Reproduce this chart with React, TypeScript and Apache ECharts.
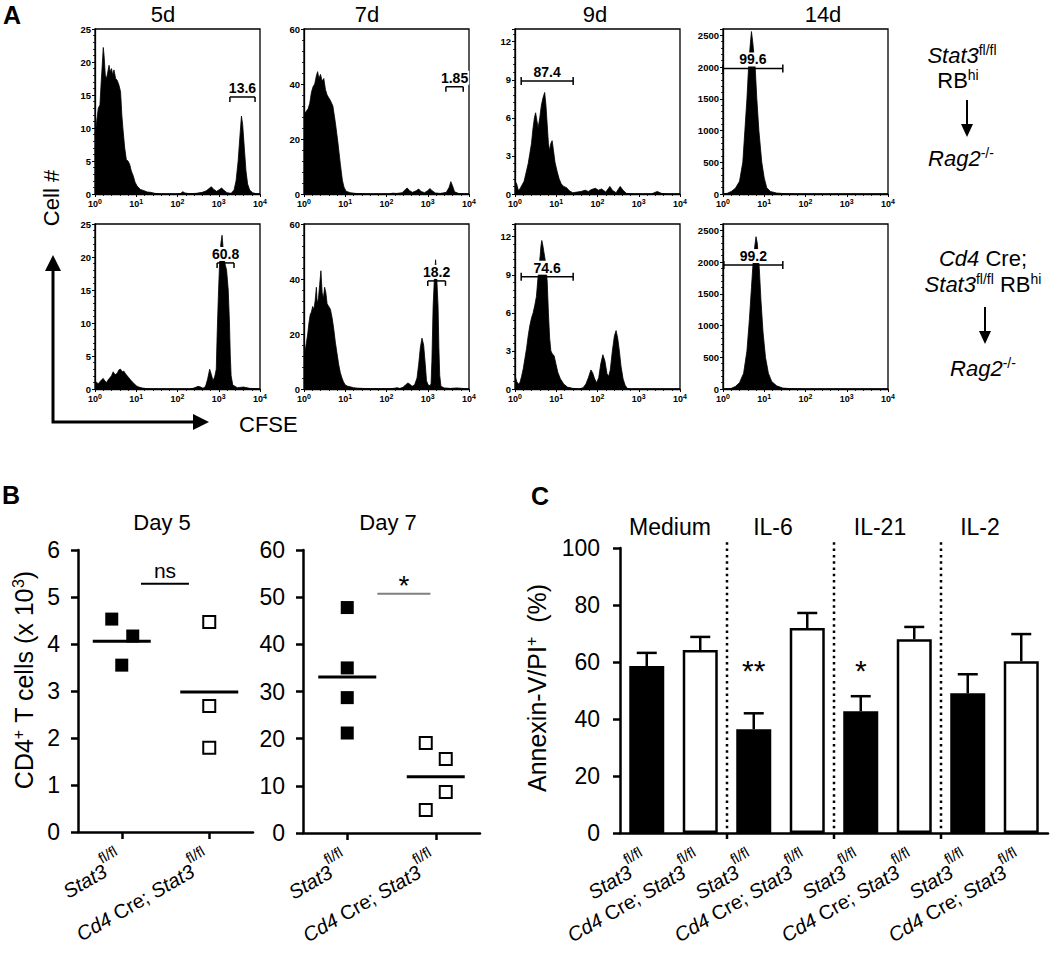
import React, { useEffect, useRef } from 'react';
import * as echarts from 'echarts';

const FONT = '"Liberation Sans", Arial, Helvetica, sans-serif';

// ---------- Panel A : CFSE histograms (x in log10 units of CFSE) ----------
const dayTitles = ['5d', '7d', '9d', '14d'];
const histYMax = [25, 60, 13, 2600];
const histYStep = [5, 20, 3, 500];

const hist5dTop = [[0,8.9],[0.04,11],[0.08,13],[0.12,13.5],[0.15,17],[0.18,20],[0.2,22.2],[0.22,21],[0.25,18],[0.28,17.5],[0.31,18.5],[0.34,19.5],[0.37,18.5],[0.4,19],[0.43,18],[0.46,18.8],[0.5,17.5],[0.54,17.2],[0.58,16.5],[0.62,15.5],[0.65,12],[0.68,9.7],[0.72,7],[0.76,5.2],[0.8,5],[0.84,4.5],[0.88,3.5],[0.93,2.7],[0.97,1.8],[1.02,1.2],[1.1,0.7],[1.19,0.5],[1.27,0.3],[1.35,0.25],[1.45,0.1],[1.6,0],[2.0,0],[2.08,0.1],[2.13,0.35],[2.18,0.15],[2.3,0.05],[2.45,0.1],[2.6,0.25],[2.7,0.5],[2.78,0.9],[2.82,1.1],[2.88,0.7],[2.95,0.4],[3.02,0.7],[3.07,0.9],[3.12,0.6],[3.2,0.2],[3.3,0.1],[3.37,0.6],[3.42,2],[3.47,5],[3.51,8.5],[3.55,11.8],[3.58,10.5],[3.62,7],[3.66,3.5],[3.7,1.5],[3.75,0.6],[3.82,0.2],[3.9,0.05],[4,0]];
const hist7dTop = [[0,29],[0.05,30],[0.1,31],[0.14,33],[0.18,37],[0.22,39],[0.26,40],[0.3,43],[0.33,44.5],[0.36,42],[0.4,43.5],[0.44,41],[0.48,42],[0.52,38],[0.56,36],[0.6,35],[0.64,34],[0.7,32],[0.76,26],[0.82,19],[0.88,11],[0.93,5],[0.97,2.5],[1.02,1],[1.12,0.5],[1.25,0.2],[1.4,0.1],[1.6,0],[2.05,0],[2.15,0.3],[2.25,0.2],[2.38,0.5],[2.45,1.5],[2.5,2.2],[2.56,1.2],[2.63,0.6],[2.72,1.2],[2.78,1.8],[2.84,0.9],[2.92,0.5],[3.0,1.2],[3.05,2],[3.1,1.3],[3.18,0.4],[3.3,0.2],[3.45,0.6],[3.52,2.5],[3.56,4.5],[3.6,3],[3.65,0.8],[3.75,0.2],[3.9,0.1],[4,0]];
const hist9dTop = [[0,1],[0.04,0.8],[0.08,0.3],[0.12,0.4],[0.17,0.7],[0.22,1],[0.27,1.7],[0.32,2.4],[0.36,3.2],[0.4,4],[0.43,5],[0.47,6],[0.5,6.4],[0.53,5.8],[0.56,5.2],[0.6,6],[0.64,7],[0.68,7.6],[0.72,8],[0.75,7],[0.78,5.5],[0.81,4],[0.84,3.4],[0.87,4],[0.9,4.2],[0.93,3.5],[0.97,2.5],[1.02,1.8],[1.07,1.2],[1.12,0.8],[1.18,0.6],[1.25,0.5],[1.32,0.25],[1.4,0.1],[1.5,0.15],[1.6,0.2],[1.7,0.3],[1.78,0.2],[1.85,0.35],[1.95,0.45],[2.02,0.3],[2.1,0.4],[2.2,0.15],[2.3,0.6],[2.36,0.3],[2.45,0.1],[2.55,0.6],[2.62,0.3],[2.7,0.05],[2.9,0],[3.3,0],[3.45,0.2],[3.55,0.05],[3.7,0],[4,0]];
const hist14dTop = [[0,0],[0.1,10],[0.2,40],[0.3,90],[0.4,200],[0.48,500],[0.53,1000],[0.58,1500],[0.62,2000],[0.66,2350],[0.69,2560],[0.72,2400],[0.78,2000],[0.82,1500],[0.87,1000],[0.94,500],[1.0,250],[1.06,100],[1.15,40],[1.3,15],[1.5,5],[1.8,0],[4,0]];
const hist5dBot = [[0,1.1],[0.04,1.0],[0.08,0.8],[0.12,1.1],[0.16,1.4],[0.2,1.6],[0.24,1.2],[0.28,1],[0.32,1.4],[0.36,1.7],[0.4,2],[0.44,2.6],[0.47,2.3],[0.5,2.2],[0.54,2.4],[0.58,2.9],[0.62,3],[0.66,2.6],[0.7,2.7],[0.74,2.3],[0.78,2],[0.82,1.7],[0.86,1.4],[0.9,1.1],[0.95,0.8],[1.0,0.5],[1.06,0.3],[1.15,0.15],[1.25,0.05],[1.4,0],[2.3,0],[2.4,0.15],[2.5,0.4],[2.56,0.3],[2.62,0.1],[2.68,0.4],[2.73,1.5],[2.78,3],[2.82,2.2],[2.86,1.3],[2.9,1.8],[2.94,3],[2.96,8],[2.99,14],[3.02,19],[3.05,22],[3.08,23.3],[3.11,21],[3.15,19],[3.19,18],[3.23,15],[3.26,10],[3.28,5],[3.3,2],[3.34,0.6],[3.45,0.2],[3.6,0.3],[3.75,0.1],[4,0]];
const hist7dBot = [[0,15],[0.03,14],[0.06,17],[0.09,20],[0.12,24],[0.15,27],[0.18,28],[0.21,30],[0.24,29],[0.27,32],[0.3,37],[0.32,31],[0.35,33],[0.38,38],[0.41,43],[0.44,35],[0.47,33],[0.5,37],[0.53,35],[0.56,31],[0.6,30],[0.64,29],[0.68,26],[0.72,22],[0.76,17],[0.8,13],[0.84,9],[0.88,6],[0.92,4],[0.96,2.5],[1.0,1.5],[1.06,1],[1.12,0.8],[1.2,0.5],[1.3,0.3],[1.45,0.2],[1.6,0.1],[1.8,0.05],[2.1,0.1],[2.2,0.3],[2.26,0.5],[2.32,0.2],[2.4,0.6],[2.46,1.5],[2.52,2.2],[2.56,1.8],[2.62,1],[2.68,1.5],[2.74,4],[2.78,9],[2.82,15],[2.86,18.5],[2.9,16],[2.94,9],[2.97,3],[3.01,1.5],[3.06,1.2],[3.08,2],[3.1,10],[3.13,30],[3.16,40],[3.19,47],[3.22,40],[3.25,30],[3.27,15],[3.29,5],[3.32,1],[3.4,0.4],[3.55,0.2],[3.7,0.4],[3.85,0.2],[4,0]];
const hist9dBot = [[0,1.1],[0.04,0.6],[0.08,0.4],[0.12,0.5],[0.16,1],[0.2,1.6],[0.24,2.4],[0.28,3.2],[0.32,4.2],[0.36,5],[0.4,5.6],[0.44,6],[0.48,6.6],[0.52,7.3],[0.55,8.5],[0.58,9.5],[0.61,10.5],[0.63,11.3],[0.65,11.7],[0.67,11.4],[0.7,10.8],[0.74,10],[0.78,8.5],[0.81,6],[0.84,4],[0.87,3],[0.9,2.8],[0.95,2.6],[0.99,2],[1.04,1.3],[1.1,0.8],[1.18,0.4],[1.27,0.15],[1.4,0.05],[1.55,0],[1.65,0.1],[1.72,0.4],[1.78,0.9],[1.84,1.5],[1.88,1.3],[1.93,0.8],[1.98,0.5],[2.03,0.9],[2.08,2],[2.13,2.7],[2.18,2.2],[2.23,1.2],[2.27,1],[2.31,1.5],[2.36,3],[2.41,4.2],[2.45,4.6],[2.49,4],[2.53,3],[2.57,1.8],[2.62,0.8],[2.67,0.3],[2.72,0.05],[2.8,0],[4,0]];
const hist14dBot = [[0,0],[0.2,10],[0.3,40],[0.4,100],[0.5,250],[0.58,600],[0.64,1100],[0.69,1600],[0.73,2000],[0.77,2250],[0.8,2400],[0.83,2300],[0.88,1900],[0.92,1400],[0.97,900],[1.03,500],[1.1,250],[1.18,120],[1.3,50],[1.45,15],[1.7,3],[2,0],[4,0]];

const histData = [hist5dTop, hist7dTop, hist9dTop, hist14dTop, hist5dBot, hist7dBot, hist9dBot, hist14dBot];

const gateLabels = ['13.6', '1.85', '87.4', '99.6', '60.8', '18.2', '74.6', '99.2'];
const gateFrom = [3.27, 3.44, 0.15, 0.0, 2.96, 3.0, 0.15, 0.02];
const gateTo = [3.88, 3.86, 1.41, 1.45, 3.37, 3.43, 1.41, 1.45];
const gateLevel = [14.7, 39, 8.9, 1978, 19.1, 39.3, 8.85, 1953];
const gateEnds = ['down', 'down', 'both', 'both', 'down', 'down', 'both', 'both'];

// ---------- Panel B : CD4+ T cell counts ----------
const groupsB = ['Stat3 fl/fl', 'Cd4 Cre; Stat3 fl/fl'];
const day5Stat3 = [4.53, 4.17, 3.55];
const day5Cre = [4.47, 2.68, 1.79];
const day7Stat3 = [47.8, 35.0, 28.7, 21.2];
const day7Cre = [19.1, 15.7, 8.7, 4.9];
const day5Means = [4.06, 2.98];
const day7Means = [33.1, 11.9];
const day5Stat3Jitter = [-10, 11, 0];
const day5CreJitter = [0, 0, 0];
const day7Stat3Jitter = [0, 0, 0, 0];
const day7CreJitter = [-10, 10, 10, -10];
const day5Sig = { from: 0.36, to: 0.634, y: 5.28, label: 'ns', color: '#000' };
const day7Sig = { from: 0.42, to: 0.72, y: 50.7, label: '*', color: '#808080' };

// ---------- Panel C : Annexin-V/PI+ ----------
const conditions = ['Medium', 'IL-6', 'IL-21', 'IL-2'];
const genotypes = ['Stat3 fl/fl', 'Cd4 Cre; Stat3 fl/fl'];
const barCats = conditions.flatMap((c) => genotypes.map((g) => `${c}: ${g}`));
const annexinMean = [58.6, 64.2, 36.4, 71.9, 42.7, 68.0, 49.0, 60.3];
const annexinSem = [4.6, 4.6, 5.6, 5.3, 5.3, 4.3, 6.7, 9.5];
const annexinSig = ['', '', '**', '', '*', '', '', ''];
const conditionBoundaries = [2, 4, 6];

const statLabel = '{i|Stat3}{s|fl/fl}';
const creLabel = '{i|Cd4}{n| Cre; }{i|Stat3}{s|fl/fl}';

function richFor(size: number, sup: number, raise: number) {
  return {
    i: { fontStyle: 'italic', fontSize: size, fontFamily: FONT, color: '#000' },
    n: { fontSize: size, fontFamily: FONT, color: '#000' },
    s: { fontSize: sup, fontFamily: FONT, color: '#000', verticalAlign: 'bottom', padding: [0, 0, raise, 0] },
  };
}

function buildOption(): any {
  const histLeft = [95, 304, 515, 723];
  const histTop = [29, 224];
  const grid: any[] = [];
  const xAxis: any[] = [];
  const yAxis: any[] = [];
  const series: any[] = [];

  for (let i = 0; i < 8; i++) {
    const c = i % 4;
    grid.push({ left: histLeft[c], top: histTop[Math.floor(i / 4)], width: 165, height: 165, show: true, borderColor: '#000', borderWidth: 1.3, backgroundColor: 'transparent' });
    xAxis.push({
      type: 'value', gridIndex: i, min: 0, max: 4, interval: 1,
      axisLine: { show: true, onZero: false, lineStyle: { color: '#000', width: 1.3 } },
      axisTick: { show: true, length: 3, lineStyle: { color: '#000', width: 1 } },
      minorTick: { show: true, splitNumber: 5, length: 2, lineStyle: { color: '#000', width: 0.8 } },
      splitLine: { show: false },
      axisLabel: {
        formatter: (v: number) => `10{s|${v}}`, fontSize: 9, fontWeight: 'bold', color: '#000', fontFamily: FONT, margin: 4,
        rich: { s: { fontSize: 7, fontWeight: 'bold', fontFamily: FONT, color: '#000', verticalAlign: 'bottom', padding: [0, 0, 5, 0] } },
      },
    });
    yAxis.push({
      type: 'value', gridIndex: i, min: 0, max: histYMax[c], interval: histYStep[c],
      axisLine: { show: true, onZero: false, lineStyle: { color: '#000', width: 1.3 } },
      axisTick: { show: true, length: 3, lineStyle: { color: '#000', width: 1 } },
      minorTick: { show: true, splitNumber: 5, length: 2, lineStyle: { color: '#000', width: 0.8 } },
      splitLine: { show: false },
      axisLabel: { formatter: (v: number) => String(v), fontSize: 9.5, fontWeight: 'bold', color: '#000', fontFamily: FONT, margin: 4, showMaxLabel: histYMax[c] % histYStep[c] === 0 },
    });
    series.push({
      type: 'line', xAxisIndex: i, yAxisIndex: i, data: histData[i], symbol: 'none', showSymbol: false, silent: true,
      lineStyle: { color: '#000', width: 0.8 }, areaStyle: { color: '#000', opacity: 1 }, z: 2,
    });
    const ends = gateEnds[i];
    const label = gateLabels[i];
    series.push({
      type: 'custom', xAxisIndex: i, yAxisIndex: i, silent: true, z: 5,
      data: [[gateFrom[i], gateTo[i], gateLevel[i]]],
      renderItem: (_p: any, api: any) => {
        const a = api.coord([api.value(0), api.value(2)]);
        const b = api.coord([api.value(1), api.value(2)]);
        const e = ends === 'down' ? [0, 5] : [-4, 4];
        const st = { stroke: '#000', lineWidth: 1.5 };
        return {
          type: 'group',
          children: [
            { type: 'text', x: (a[0] + b[0]) / 2, y: a[1] - 2, style: { text: label, fill: '#000', fontSize: 14, fontWeight: 'bold', fontFamily: FONT, align: 'center', verticalAlign: 'bottom', backgroundColor: '#fff', padding: [0, 1, 0, 1] } },
            { type: 'line', shape: { x1: a[0], y1: a[1], x2: b[0], y2: b[1] }, style: st },
            { type: 'line', shape: { x1: a[0], y1: a[1] + e[0], x2: a[0], y2: a[1] + e[1] }, style: st },
            { type: 'line', shape: { x1: b[0], y1: b[1] + e[0], x2: b[0], y2: b[1] + e[1] }, style: st },
          ],
        };
      },
    });
  }

  // Panel B grids
  grid.push({ left: 78, top: 550, width: 175, height: 282 });
  grid.push({ left: 303, top: 550, width: 177, height: 283 });
  // Panel C grid
  grid.push({ left: 620, top: 548, width: 428, height: 285 });

  const bigAxisLine = { show: true, onZero: false, lineStyle: { color: '#000', width: 2.5 } };
  const bigTick = { show: true, length: 7, lineStyle: { color: '#000', width: 2.5 } };
  const catLabel = (size: number, sup: number, margin: number) => ({
    rotate: 30, margin, color: '#000', fontFamily: FONT, fontSize: size,
    formatter: (v: string) => (v.endsWith('Cd4 Cre; Stat3 fl/fl') ? creLabel : statLabel),
    rich: richFor(size, sup, 24),
  });

  // xAxis 8/9 (Day 5), 10/11 (Day 7), 12/13 (C)
  [8, 9].forEach((g) => {
    xAxis.push({ type: 'category', gridIndex: g, data: groupsB, boundaryGap: true, axisLine: bigAxisLine, axisTick: { ...bigTick, alignWithLabel: true }, axisLabel: catLabel(20, 15, 28), splitLine: { show: false } });
    xAxis.push({ type: 'value', gridIndex: g, min: 0, max: 1, show: false });
  });
  xAxis.push({ type: 'category', gridIndex: 10, data: barCats, boundaryGap: true, axisLine: bigAxisLine, axisTick: { show: false }, axisLabel: { ...catLabel(20, 15, 28), interval: 0 }, splitLine: { show: false } });
  xAxis.push({ type: 'value', gridIndex: 10, min: 0, max: 8, show: false });

  const bigY = (g: number, max: number, step: number, margin: number, size: number) => ({
    type: 'value', gridIndex: g, min: 0, max, interval: step, axisLine: bigAxisLine, axisTick: bigTick, splitLine: { show: false },
    axisLabel: { color: '#000', fontFamily: FONT, fontSize: size, margin },
  });
  yAxis.push(bigY(8, 6, 1, 18, 23));
  yAxis.push(bigY(9, 60, 10, 18, 23));
  yAxis.push(bigY(10, 100, 20, 20, 23));

  const scatter = (xi: number, yi: number, vals: number[], jit: number[], filled: boolean) => ({
    type: 'scatter', xAxisIndex: xi, yAxisIndex: yi, symbol: 'rect', symbolSize: filled ? 13 : 12, silent: true, z: 4,
    itemStyle: filled ? { color: '#000', opacity: 1 } : { color: '#fff', borderColor: '#000', borderWidth: 2, opacity: 1 },
    data: vals.map((v, k) => ({ value: [filled ? 0 : 1, v], symbolOffset: [jit[k], 0] })),
  });
  series.push(scatter(8, 8, day5Stat3, day5Stat3Jitter, true));
  series.push(scatter(8, 8, day5Cre, day5CreJitter, false));
  series.push(scatter(10, 9, day7Stat3, day7Stat3Jitter, true));
  series.push(scatter(10, 9, day7Cre, day7CreJitter, false));

  const meanSeries = (xi: number, yi: number, means: number[]) => ({
    type: 'custom', xAxisIndex: xi, yAxisIndex: yi, silent: true, z: 5,
    data: means.map((m, i) => [i, m]),
    renderItem: (_p: any, api: any) => {
      const p = api.coord([api.value(0), api.value(1)]);
      return { type: 'line', shape: { x1: p[0] - 29, y1: p[1], x2: p[0] + 29, y2: p[1] }, style: { stroke: '#000', lineWidth: 3 } };
    },
  });
  series.push(meanSeries(8, 8, day5Means));
  series.push(meanSeries(10, 9, day7Means));

  const sigSeries = (xi: number, yi: number, sig: any, size: number, gap: number) => ({
    type: 'custom', xAxisIndex: xi, yAxisIndex: yi, silent: true, z: 5,
    data: [[sig.from, sig.to, sig.y]],
    renderItem: (_p: any, api: any) => {
      const a = api.coord([api.value(0), api.value(2)]);
      const b = api.coord([api.value(1), api.value(2)]);
      return {
        type: 'group',
        children: [
          { type: 'line', shape: { x1: a[0], y1: a[1], x2: b[0], y2: b[1] }, style: { stroke: sig.color, lineWidth: 2 } },
          { type: 'text', x: (a[0] + b[0]) / 2, y: a[1] - gap, style: { text: sig.label, fill: '#000', fontSize: size, fontFamily: FONT, align: 'center', verticalAlign: 'bottom' } },
        ],
      };
    },
  });
  series.push(sigSeries(9, 8, day5Sig, 21, 3));
  series.push(sigSeries(11, 9, day7Sig, 28, -6));

  // Panel C bars
  series.push({
    type: 'bar', xAxisIndex: 12, yAxisIndex: 10, barWidth: 35, silent: true, z: 2,
    data: annexinMean.map((v, i) => ({
      value: v,
      itemStyle: i % 2 === 0 ? { color: '#000', borderColor: '#000', borderWidth: 2 } : { color: '#fff', borderColor: '#000', borderWidth: 2.5 },
    })),
  });
  series.push({
    type: 'custom', xAxisIndex: 12, yAxisIndex: 10, silent: true, z: 4,
    data: annexinMean.map((m, i) => [i, m, m + annexinSem[i]]),
    renderItem: (_p: any, api: any) => {
      const lo = api.coord([api.value(0), api.value(1)]);
      const hi = api.coord([api.value(0), api.value(2)]);
      const st = { stroke: '#000', lineWidth: 2.5 };
      return {
        type: 'group',
        children: [
          { type: 'line', shape: { x1: lo[0], y1: lo[1], x2: hi[0], y2: hi[1] }, style: st },
          { type: 'line', shape: { x1: hi[0] - 10, y1: hi[1], x2: hi[0] + 10, y2: hi[1] }, style: st },
        ],
      };
    },
  });
  series.push({
    type: 'custom', xAxisIndex: 12, yAxisIndex: 10, silent: true, z: 4,
    data: annexinSig.map((s, i) => [i, 57, s]),
    renderItem: (p: any, api: any) => {
      const pt = api.coord([api.value(0), api.value(1)]);
      return { type: 'text', x: pt[0], y: pt[1], style: { text: annexinSig[p.dataIndex], fill: '#000', fontSize: 30, fontFamily: FONT, align: 'center', verticalAlign: 'middle' } };
    },
  });
  series.push({
    type: 'custom', xAxisIndex: 13, yAxisIndex: 10, silent: true, z: 3,
    data: conditionBoundaries.map((b) => [b]),
    renderItem: (_p: any, api: any) => {
      const top = api.coord([api.value(0), 102]);
      const bot = api.coord([api.value(0), 0]);
      return {
        type: 'group',
        children: [
          { type: 'line', shape: { x1: top[0], y1: top[1], x2: bot[0], y2: bot[1] - 3 }, style: { stroke: '#000', lineWidth: 2.5, lineDash: [2.5, 3.8] } },
          { type: 'line', shape: { x1: bot[0], y1: bot[1], x2: bot[0], y2: bot[1] + 6 }, style: { stroke: '#000', lineWidth: 2.5 } },
        ],
      };
    },
  });

  const txt = (x: number, y: number, text: string, size: number, extra: any = {}) => ({
    type: 'text', x, y, silent: true,
    style: { text, fill: '#000', fontSize: size, fontFamily: FONT, align: 'center', verticalAlign: 'middle', ...extra },
  });
  const rich22 = richFor(22, 14, 11);

  const graphic: any[] = [
    txt(12, 15, 'A', 25, { fontWeight: 'bold' }),
    txt(163, 14, dayTitles[0], 22),
    txt(367, 14, dayTitles[1], 22),
    txt(595, 14, dayTitles[2], 22),
    txt(823, 14, dayTitles[3], 22),
    { ...txt(51, 198, 'Cell #', 22), rotation: Math.PI / 2 },
    { type: 'polyline', silent: true, shape: { points: [[53, 266], [53, 422], [196, 422]] }, style: { stroke: '#000', lineWidth: 3, fill: null } },
    { type: 'polygon', silent: true, shape: { points: [[53, 255], [45, 271], [61, 271]] }, style: { fill: '#000' } },
    { type: 'polygon', silent: true, shape: { points: [[209, 422], [193, 414], [193, 430]] }, style: { fill: '#000' } },
    txt(239, 424, 'CFSE', 22, { align: 'left' }),
    txt(962, 55, '{i|Stat3}{s|fl/fl}', 22, { rich: rich22 }),
    txt(958, 80, '{n|RB}{s|hi}', 22, { rich: rich22 }),
    { type: 'line', silent: true, shape: { x1: 967, y1: 100, x2: 967, y2: 127 }, style: { stroke: '#000', lineWidth: 2 } },
    { type: 'polygon', silent: true, shape: { points: [[967, 137], [961, 124], [973, 124]] }, style: { fill: '#000' } },
    txt(961, 158, '{i|Rag2}{s|-/-}', 22, { rich: rich22 }),
    txt(983, 258, '{i|Cd4}{n| Cre;}', 22, { rich: rich22 }),
    txt(983, 284, '{i|Stat3}{s|fl/fl}{n| RB}{s|hi}', 22, { rich: rich22 }),
    { type: 'line', silent: true, shape: { x1: 985, y1: 307, x2: 985, y2: 334 }, style: { stroke: '#000', lineWidth: 2 } },
    { type: 'polygon', silent: true, shape: { points: [[985, 344], [979, 331], [991, 331]] }, style: { fill: '#000' } },
    txt(983, 368, '{i|Rag2}{s|-/-}', 22, { rich: rich22 }),
    txt(11, 495, 'B', 25, { fontWeight: 'bold' }),
    txt(540, 496, 'C', 25, { fontWeight: 'bold' }),
    txt(162, 522, 'Day 5', 22),
    txt(388, 522, 'Day 7', 22),
    { ...txt(24, 680, '{n|CD4}{s|+}{n| T cells (x 10}{s|3}{n|)}', 25, { rich: richFor(25, 16, 12) }), rotation: Math.PI / 2 },
    { ...txt(537, 688, '{n|Annexin-V/PI}{s|+}{n|  (%)}', 25, { rich: richFor(25, 16, 12) }), rotation: Math.PI / 2 },
    txt(670, 527, conditions[0], 23),
    txt(773, 527, conditions[1], 23),
    txt(880, 527, conditions[2], 23),
    txt(980, 527, conditions[3], 23),
  ];

  return {
    animation: false,
    backgroundColor: '#fff',
    textStyle: { fontFamily: FONT, color: '#000' },
    grid, xAxis, yAxis, series, graphic,
  };
}

export default function App() {
  const ref = useRef<HTMLDivElement>(null);
  useEffect(() => {
    document.body.style.margin = '0';
    const chart = echarts.init(ref.current!, undefined, { renderer: 'svg' });
    chart.setOption(buildOption());
    return () => chart.dispose();
  }, []);
  return <div ref={ref} style={{ width: 1050, height: 961, background: '#fff' }} />;
}
